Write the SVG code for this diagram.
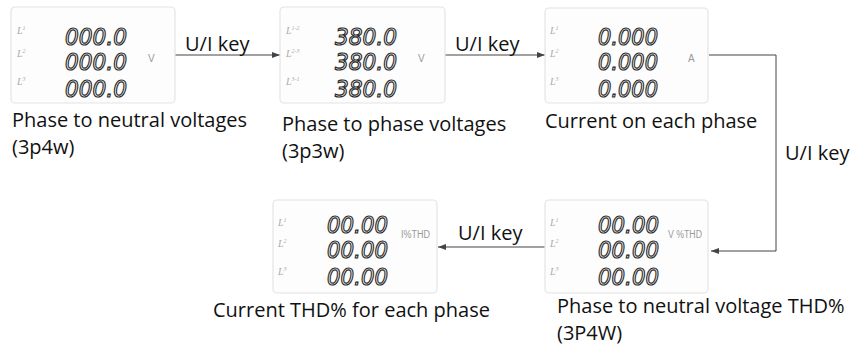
<svg xmlns="http://www.w3.org/2000/svg" width="857" height="352" viewBox="0 0 857 352">
<defs>
<marker id="ah" viewBox="0 0 8 6" refX="8" refY="3" markerWidth="8" markerHeight="6" orient="auto" markerUnits="userSpaceOnUse">
<path d="M0,0 L8,3 L0,6 z" fill="#444"/>
</marker>
</defs>
<style>
.panel{fill:#fdfdfd;stroke:#e4e4e4;stroke-width:1.2}
.lcd{font-family:"DejaVu Sans",sans-serif;font-style:italic;font-size:23px;fill:#fafafa;stroke:#2a2a2a;stroke-width:1.2}
.lbl{font-family:"Liberation Serif",serif;font-style:italic;font-size:10px;fill:#aaa}
.sup{font-size:6px}
.unit{font-family:"Liberation Sans",sans-serif;font-size:10px;fill:#999}
.cap{font-family:"Open Sans",sans-serif;font-size:20px;fill:#111}
.conn{fill:none;stroke:#444;stroke-width:1}
</style>

<g id="connectors">
<line class="conn" x1="175" y1="55" x2="280" y2="55" marker-end="url(#ah)"/>
<line class="conn" x1="445" y1="55" x2="545" y2="55" marker-end="url(#ah)"/>
<path class="conn" d="M709,55 H776 V251 H711" marker-end="url(#ah)"/>
<line class="conn" x1="545" y1="247" x2="438" y2="247" marker-end="url(#ah)"/>
<text class="cap" x="185" y="51">U/I key</text>
<text class="cap" x="455" y="51">U/I key</text>
<text class="cap" x="785" y="160">U/I key</text>
<text class="cap" x="458" y="240">U/I key</text>
</g>

<g id="node1">
<rect class="panel" x="11" y="7" width="164" height="96" rx="4"/>
<text class="lbl" x="17" y="34">L<tspan class="sup" dy="-4">1</tspan></text>
<text class="lbl" x="17" y="57">L<tspan class="sup" dy="-4">2</tspan></text>
<text class="lbl" x="17" y="85">L<tspan class="sup" dy="-4">3</tspan></text>
<text class="lcd" x="65" y="45" textLength="62" lengthAdjust="spacingAndGlyphs">000.0</text>
<text class="lcd" x="65" y="70" textLength="62" lengthAdjust="spacingAndGlyphs">000.0</text>
<text class="lcd" x="65" y="97" textLength="62" lengthAdjust="spacingAndGlyphs">000.0</text>
<text class="unit" x="148" y="62">V</text>
<text class="cap" x="12" y="127">Phase to neutral voltages</text>
<text class="cap" x="12" y="154">(3p4w)</text>
</g>

<g id="node2">
<rect class="panel" x="280" y="7" width="165" height="96" rx="4"/>
<text class="lbl" x="286" y="34">L<tspan class="sup" dy="-4">1-2</tspan></text>
<text class="lbl" x="286" y="57">L<tspan class="sup" dy="-4">2-3</tspan></text>
<text class="lbl" x="286" y="85">L<tspan class="sup" dy="-4">3-1</tspan></text>
<text class="lcd" x="335" y="45" textLength="62" lengthAdjust="spacingAndGlyphs">380.0</text>
<text class="lcd" x="335" y="70" textLength="62" lengthAdjust="spacingAndGlyphs">380.0</text>
<text class="lcd" x="335" y="97" textLength="62" lengthAdjust="spacingAndGlyphs">380.0</text>
<text class="unit" x="418" y="62">V</text>
<text class="cap" x="282" y="131">Phase to phase voltages</text>
<text class="cap" x="282" y="158">(3p3w)</text>
</g>

<g id="node3">
<rect class="panel" x="545" y="8" width="163" height="95" rx="4"/>
<text class="lbl" x="550" y="34">L<tspan class="sup" dy="-4">1</tspan></text>
<text class="lbl" x="550" y="57">L<tspan class="sup" dy="-4">2</tspan></text>
<text class="lbl" x="550" y="85">L<tspan class="sup" dy="-4">3</tspan></text>
<text class="lcd" x="598" y="45" textLength="60" lengthAdjust="spacingAndGlyphs">0.000</text>
<text class="lcd" x="598" y="70" textLength="60" lengthAdjust="spacingAndGlyphs">0.000</text>
<text class="lcd" x="598" y="97" textLength="60" lengthAdjust="spacingAndGlyphs">0.000</text>
<text class="unit" x="688" y="62">A</text>
<text class="cap" x="545" y="128">Current on each phase</text>
</g>

<g id="node4">
<rect class="panel" x="273" y="200" width="164" height="93" rx="4"/>
<text class="lbl" x="278" y="226">L<tspan class="sup" dy="-4">1</tspan></text>
<text class="lbl" x="278" y="247">L<tspan class="sup" dy="-4">2</tspan></text>
<text class="lbl" x="278" y="275">L<tspan class="sup" dy="-4">3</tspan></text>
<text class="lcd" x="327" y="233" textLength="61" lengthAdjust="spacingAndGlyphs">00.00</text>
<text class="lcd" x="327" y="258" textLength="61" lengthAdjust="spacingAndGlyphs">00.00</text>
<text class="lcd" x="327" y="285" textLength="61" lengthAdjust="spacingAndGlyphs">00.00</text>
<text class="unit" x="401" y="238" textLength="29" lengthAdjust="spacingAndGlyphs">I%THD</text>
<text class="cap" x="213" y="317">Current THD% for each phase</text>
</g>

<g id="node5">
<rect class="panel" x="545" y="200" width="163" height="93" rx="4"/>
<text class="lbl" x="550" y="226">L<tspan class="sup" dy="-4">1</tspan></text>
<text class="lbl" x="550" y="247">L<tspan class="sup" dy="-4">2</tspan></text>
<text class="lbl" x="550" y="275">L<tspan class="sup" dy="-4">3</tspan></text>
<text class="lcd" x="598" y="233" textLength="61" lengthAdjust="spacingAndGlyphs">00.00</text>
<text class="lcd" x="598" y="258" textLength="61" lengthAdjust="spacingAndGlyphs">00.00</text>
<text class="lcd" x="598" y="285" textLength="61" lengthAdjust="spacingAndGlyphs">00.00</text>
<text class="unit" x="668" y="238" textLength="34" lengthAdjust="spacingAndGlyphs">V %THD</text>
<text class="cap" x="557" y="313">Phase to neutral voltage THD%</text>
<text class="cap" x="557" y="340">(3P4W)</text>
</g>
</svg>
